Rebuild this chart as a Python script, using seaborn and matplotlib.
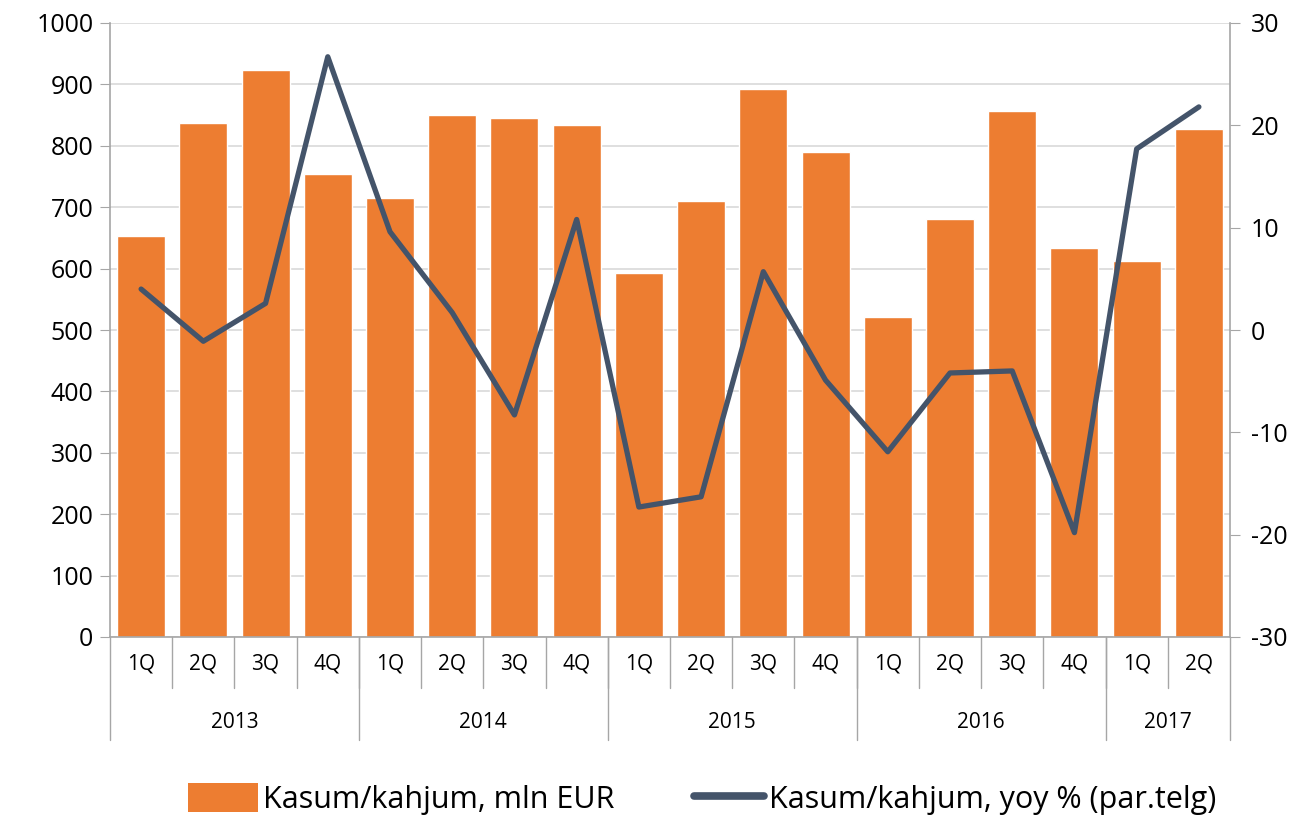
import matplotlib
matplotlib.use("Agg")
import matplotlib.pyplot as plt
import matplotlib.transforms as mtransforms
from matplotlib.patches import Patch
from matplotlib.lines import Line2D
import seaborn as sns
import pandas as pd

quarters = ["1Q", "2Q", "3Q", "4Q"] * 4 + ["1Q", "2Q"]
years = ["2013", "2014", "2015", "2016", "2017"]
year_sizes = [4, 4, 4, 4, 2]
profit = [653, 837, 923, 754, 715, 850, 845, 834, 593, 710, 892, 790,
          521, 681, 857, 634, 612, 827]
yoy = [4.0, -1.1, 2.6, 26.7, 9.6, 1.7, -8.3, 10.8, -17.3, -16.3, 5.7, -4.9,
       -11.9, -4.2, -4.0, -19.8, 17.7, 21.8]

sns.set_style("white")
plt.rcParams['font.family'] = ['Open Sans', 'DejaVu Sans']
plt.rcParams['text.color'] = 'black'
plt.rcParams['xtick.color'] = 'black'
plt.rcParams['ytick.color'] = 'black'
plt.rcParams['axes.unicode_minus'] = False

bar_color = "#ED7D31"
line_color = "#44546A"
grid_color = "#D9D9D9"

df = pd.DataFrame({"idx": range(len(profit)), "profit": profit, "yoy": yoy})

fig = plt.figure(figsize=(13.05, 8.17), dpi=100)
ax = fig.add_axes([110 / 1305, 180 / 817, 1120 / 1305, 614 / 817])

sns.barplot(data=df, x="idx", y="profit", color=bar_color, width=0.77,
            saturation=1, ax=ax, zorder=2)
ax.set_ylim(0, 1000)
ax.set_xlim(-0.5, len(profit) - 0.5)
ax.set_yticks(range(0, 1001, 100))
ax.yaxis.grid(True, color=grid_color, lw=1.2, zorder=0)
ax.set_axisbelow(True)
ax.set_xlabel("")
ax.set_ylabel("")
ax.tick_params(axis="y", labelsize=18, length=7, color="#A6A6A6", left=True, pad=5)
ax.tick_params(axis="x", length=0, labelsize=15, pad=12)
ax.set_xticks(range(len(profit)))
ax.set_xticklabels(quarters)
for s in ["top", "right"]:
    ax.spines[s].set_visible(False)
for s in ["left", "bottom"]:
    ax.spines[s].set_color("#A6A6A6")
    ax.spines[s].set_linewidth(1.2)

ax2 = ax.twinx()
sns.lineplot(data=df, x="idx", y="yoy", color=line_color, lw=3.8, ax=ax2, zorder=3)
ax2.set_ylim(-30, 30)
ax2.set_yticks(range(-30, 31, 10))
ax2.set_ylabel("")
ax2.tick_params(axis="y", labelsize=18, length=7, color="#A6A6A6", right=True, pad=8)
for s in ["top", "left", "bottom"]:
    ax2.spines[s].set_visible(False)
ax2.spines["right"].set_color("#A6A6A6")
ax2.spines["right"].set_linewidth(1.2)

# category separators and year labels
trans = mtransforms.blended_transform_factory(ax.transData, ax.transAxes)
for i in range(1, len(profit)):
    ax.plot([i - 0.5, i - 0.5], [0, -0.083], transform=trans, color="#A6A6A6",
            lw=1, clip_on=False)
start = -0.5
ax.plot([start, start], [0, -0.168], transform=trans, color="#A6A6A6", lw=1, clip_on=False)
for y, n in zip(years, year_sizes):
    end = start + n
    ax.plot([end, end], [0, -0.168], transform=trans, color="#A6A6A6", lw=1, clip_on=False)
    ax.text((start + end) / 2, -0.140, y, transform=trans, ha="center", va="center",
            fontsize=15)
    start = end

handles = [Patch(facecolor=bar_color, edgecolor="none"),
           Line2D([0], [0], color=line_color, lw=5.5, solid_capstyle="round")]
fig.legend(handles, ["Kasum/kahjum, mln EUR", "Kasum/kahjum, yoy % (par.telg)"],
           loc="center", bbox_to_anchor=(0.538, 0.022), ncol=2, frameon=False,
           fontsize=22, handlelength=2.3, handleheight=1.1, handletextpad=0.15,
           columnspacing=2.6)

fig.savefig("out.png", dpi=100)
